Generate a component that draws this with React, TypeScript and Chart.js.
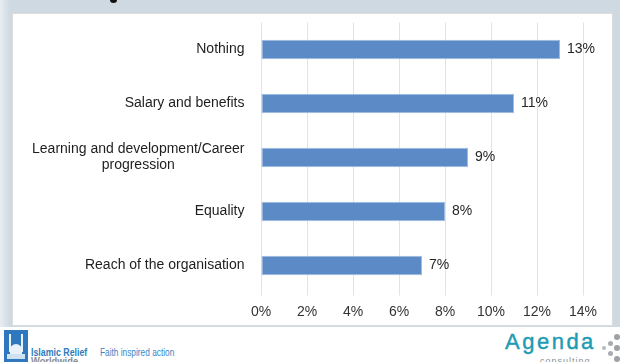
import React, { useEffect, useRef } from "react";
import { Chart, registerables } from "chart.js";

Chart.register(...registerables);

const categories: string[][] = [
  ["Nothing"],
  ["Salary and benefits"],
  ["Learning and development/Career", "progression"],
  ["Equality"],
  ["Reach of the organisation"],
];
const values: number[] = [13, 11, 9, 8, 7];
const xTickLabels: string[] = ["0%", "2%", "4%", "6%", "8%", "10%", "12%", "14%"];

const FONT = "'Liberation Sans', Arial, sans-serif";

const labelPlugin = {
  id: "customLabels",
  afterDatasetsDraw(chart: any) {
    const ctx = chart.ctx;
    const yScale = chart.scales.y;
    const meta = chart.getDatasetMeta(0);
    ctx.save();
    ctx.font = `14px ${FONT}`;
    ctx.textBaseline = "middle";
    ctx.fillStyle = "#1e1e1e";
    ctx.textAlign = "center";
    const rightEdge = chart.chartArea.left - 16.5;
    categories.forEach((lines, i) => {
      const cy = yScale.getPixelForValue(i);
      const w = Math.max(...lines.map((l) => ctx.measureText(l).width));
      const cx = rightEdge - w / 2;
      const lh = 16;
      const y0 = cy - ((lines.length - 1) * lh) / 2;
      lines.forEach((l, j) => ctx.fillText(l, cx, y0 + j * lh));
    });
    ctx.textAlign = "left";
    ctx.fillStyle = "#262626";
    meta.data.forEach((bar: any, i: number) => {
      ctx.fillText(`${values[i]}%`, bar.x + 7, bar.y);
    });
    ctx.restore();
  },
};

export default function App() {
  const ref = useRef<HTMLCanvasElement>(null);
  useEffect(() => {
    if (!ref.current) return;
    const chart = new Chart(ref.current, {
      type: "bar",
      data: {
        labels: categories.map((c) => c.join(" ")),
        datasets: [
          {
            data: values,
            backgroundColor: "#5b8ac6",
            borderColor: "#9dbbe2",
            borderWidth: 1,
            borderSkipped: false,
            barPercentage: 0.36,
            categoryPercentage: 1,
          },
        ],
      },
      options: {
        indexAxis: "y",
        animation: false,
        responsive: false,
        maintainAspectRatio: false,
        layout: { padding: { left: 0, right: 37, top: 22.5, bottom: 0 } },
        plugins: { legend: { display: false }, tooltip: { enabled: false } },
        scales: {
          x: {
            min: 0,
            max: 14,
            ticks: {
              stepSize: 2,
              padding: 8,
              color: "#333333",
              font: { family: FONT, size: 14 },
              callback: (_v: any, i: number) => xTickLabels[i],
            },
            grid: { color: "#e3e3e3", lineWidth: 1, tickLength: 3, drawTicks: true, tickColor: "#e3e3e3" },
            border: { display: false },
            afterFit: (s: any) => {
              s.height = 32.5;
            },
          },
          y: {
            ticks: { display: false },
            grid: { display: false },
            border: { display: false },
            afterFit: (s: any) => {
              s.width = 261;
            },
          },
        },
      },
      plugins: [labelPlugin],
    });
    return () => chart.destroy();
  }, []);

  const dot = (x: number, y: number, r: number, c: string) => (
    <div
      style={{
        position: "absolute",
        left: x - r,
        top: y - r,
        width: r * 2,
        height: r * 2,
        borderRadius: "50%",
        background: c,
      }}
    />
  );

  const squeezed = (scale: number): React.CSSProperties => ({
    transform: `scaleX(${scale})`,
    transformOrigin: "left top",
    whiteSpace: "nowrap",
  });

  return (
    <div
      style={{
        position: "fixed",
        left: 0,
        top: 0,
        width: 620,
        height: 362,
        overflow: "hidden",
        background: "#ffffff",
        fontFamily: FONT,
      }}
    >
      <div
        style={{
          position: "absolute",
          left: 0,
          top: 0,
          width: 620,
          height: 327,
          background: "linear-gradient(to right, #e8edf2 0px, #cfd9e2 10px, #cfd9e2 612px)",
        }}
      />
      <div
        style={{
          position: "absolute",
          left: 110,
          top: -3,
          width: 7,
          height: 6,
          borderRadius: "50%",
          background: "#111",
        }}
      />
      <div
        style={{
          position: "absolute",
          left: 12,
          top: 13,
          width: 599,
          height: 311,
          background: "#ffffff",
          border: "1px solid #dcdcdc",
        }}
      />
      <canvas
        ref={ref}
        width={620}
        height={325}
        style={{ position: "absolute", left: 0, top: 0, width: 620, height: 325 }}
      />
      {/* Islamic Relief logo */}
      <div
        style={{
          position: "absolute",
          left: 4,
          top: 330,
          width: 24,
          height: 34,
          background: "#2f78bd",
          overflow: "hidden",
        }}
      >
        <div style={{ position: "absolute", left: 5, top: 4, width: 2, height: 18, background: "#e9f1f9" }} />
        <div style={{ position: "absolute", left: 17, top: 4, width: 2, height: 18, background: "#e9f1f9" }} />
        <div
          style={{
            position: "absolute",
            left: 6,
            top: 14,
            width: 12,
            height: 10,
            borderRadius: "6px 6px 0 0",
            background: "#e9f1f9",
          }}
        />
        <div style={{ position: "absolute", left: 3, top: 24, width: 18, height: 5, background: "#cfe0f0" }} />
      </div>
      <div
        style={{
          position: "absolute",
          left: 31,
          top: 346,
          fontWeight: "bold",
          fontSize: 11,
          color: "#2b7cc0",
          ...squeezed(0.8),
        }}
      >
        Islamic Relief
      </div>
      <div
        style={{
          position: "absolute",
          left: 31,
          top: 355,
          fontWeight: "bold",
          fontSize: 11,
          color: "#8a8f95",
          ...squeezed(0.85),
        }}
      >
        Worldwide
      </div>
      <div
        style={{
          position: "absolute",
          left: 100,
          top: 347,
          fontSize: 10,
          color: "#3a86c6",
          ...squeezed(0.83),
        }}
      >
        Faith inspired action
      </div>
      {/* Agenda logo */}
      <div
        style={{
          position: "absolute",
          left: 505,
          top: 330,
          fontSize: 22,
          letterSpacing: 2.5,
          color: "#1c9bb4",
          whiteSpace: "nowrap",
          lineHeight: "24px",
          WebkitTextStroke: "0.4px #1c9bb4",
        }}
      >
        Agenda
      </div>
      <div
        style={{
          position: "absolute",
          left: 540,
          top: 356,
          fontSize: 9,
          letterSpacing: 1,
          color: "#8a8f95",
          whiteSpace: "nowrap",
        }}
      >
        consulting
      </div>
      {dot(604, 348, 2, "#b5b8bb")}
      {dot(610, 343, 2.5, "#a9adb1")}
      {dot(610, 353, 2.5, "#a9adb1")}
      {dot(617, 337, 3, "#9ea2a6")}
      {dot(617, 348, 3, "#9ea2a6")}
      {dot(617, 359, 3, "#9ea2a6")}
    </div>
  );
}
